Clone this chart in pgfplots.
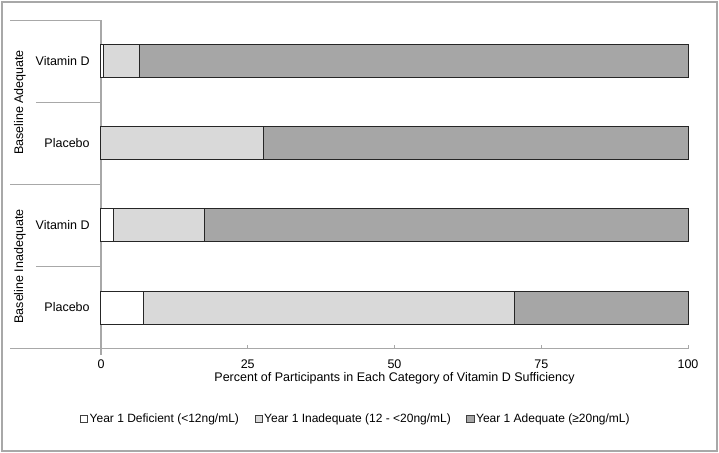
\documentclass[border=0pt]{standalone}
\usepackage{fontspec}
\setmainfont{Liberation Sans}
\usepackage{pgfplots}
\pgfplotsset{compat=1.18}
\definecolor{inadeq}{HTML}{D9D9D9}
\definecolor{adeq}{HTML}{A6A6A6}
\definecolor{rule}{HTML}{A8A8A8}

\begin{document}
\fontsize{12.5bp}{14.5bp}\selectfont
\begin{tikzpicture}
% page = 719 x 453, axis box from px (101,20) to (688,348.5)
\path[use as bounding box] (-101bp,-104.5bp) rectangle (618bp,348.5bp);
\draw[rule, line width=1.3bp] (-99bp,-102.5bp) rectangle (616bp,346.5bp);
\begin{axis}[
  at={(0,0)}, anchor=south west,
  scale only axis,
  width=587bp, height=328bp,
  xbar stacked,
  bar width=33bp,
  xmin=0, xmax=100,
  ymin=-0.5, ymax=3.5,
  axis lines*=left,
  axis line style={draw=none},
  clip=false,
  xtick={0,25,50,75,100},
  ytick={0,1,2,3},
  yticklabels={Placebo, Vitamin D, Placebo, Vitamin D},
  tick align=inside,
  major tick length=4bp,
  x tick style={rule, line width=1bp},
  y tick style={draw=none},
  xticklabel style={inner sep=0pt, yshift=-11.5bp},
  yticklabel style={xshift=-7bp},
  /pgf/number format/assume math mode=true,
  xlabel={Percent of Participants in Each Category of Vitamin D Sufficiency},
  xlabel style={at={(axis description cs:0.5,0)}, anchor=base, inner sep=0pt, yshift=-32.5bp},
  legend columns=3,
  legend style={at={(axis description cs:0,-0.215)}, anchor=west, xshift=-21bp,
    draw=none, fill=none, inner sep=0pt, outer sep=0pt,
    font=\fontsize{12bp}{14bp}\selectfont,
    nodes={inner sep=1.5bp},
    /tikz/every even column/.append style={column sep=14bp}},
  legend image code/.code={\draw[#1, draw=black!75, line width=0.7bp] (0bp,-3.5bp) rectangle (7.5bp,3.5bp);},
]
\addplot[fill=white, draw=black!85, line width=1bp] coordinates {
  (7.2,0) (2.2,1) (0,2) (0.4,3)
};
\addplot[fill=inadeq, draw=black!85, line width=1bp] coordinates {
  (63.3,0) (15.5,1) (27.6,2) (6.1,3)
};
\addplot[fill=adeq, draw=black!85, line width=1bp] coordinates {
  (29.5,0) (82.3,1) (72.4,2) (93.5,3)
};
\legend{Year 1 Deficient (<12ng/mL), Year 1 Inadequate (12 - <20ng/mL), Year 1 Adequate (≥20ng/mL)}

% category frame lines
\draw[rule, line width=1.3bp] (axis cs:-15.5,3.5) -- (axis cs:0,3.5);
\draw[rule, line width=1.3bp] (axis cs:-11.1,2.5) -- (axis cs:0,2.5);
\draw[rule, line width=1.3bp] (axis cs:-15.5,1.5) -- (axis cs:0,1.5);
\draw[rule, line width=1.3bp] (axis cs:-11.1,0.5) -- (axis cs:0,0.5);
\draw[rule, line width=1.3bp] (axis cs:-15.5,-0.5) -- (axis cs:100,-0.5);
\draw[rule, line width=1.3bp] (axis cs:0,3.5) -- (axis cs:0,-0.585);
\node[rotate=90] at (axis cs:-13.8,2.5) {Baseline Adequate};
\node[rotate=90] at (axis cs:-13.8,0.5) {Baseline Inadequate};
\end{axis}
\end{tikzpicture}
\end{document}
